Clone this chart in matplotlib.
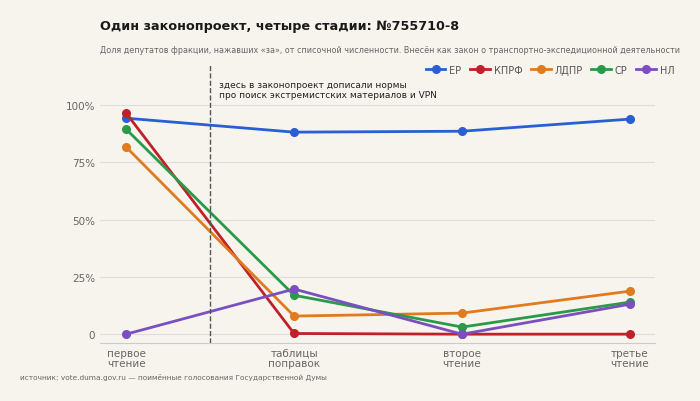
import matplotlib.pyplot as plt

stages = ["первое\nчтение", "таблицы\nпоправок", "второе\nчтение", "третье\nчтение"]
er = [94.3, 88.2, 88.6, 93.9]
kprf = [96.5, 0.3, 0.0, 0.0]
ldpr = [81.7, 7.9, 9.2, 18.8]
sr = [89.5, 17.0, 3.1, 14.0]
nl = [0.0, 19.7, 0.0, 13.1]
series = [("ЕР", er, "#2a5fd4"), ("КПРФ", kprf, "#c0202a"), ("ЛДПР", ldpr, "#e07b1e"),
          ("СР", sr, "#2a9a4a"), ("НЛ", nl, "#7a4fc0")]
bg = "#f7f4ee"

fig = plt.figure(figsize=(7, 4.02), dpi=100, facecolor=bg)
ax = fig.add_axes([0.143, 0.144, 0.793, 0.694], facecolor=bg)
x = list(range(len(stages)))
for name, vals, c in series:
    ax.plot(x, vals, color=c, lw=2, marker="o", ms=5.5, label=name)
ax.set_xlim(-0.155, 3.15)
ax.set_ylim(-3.9, 117.9)
ax.set_yticks([0, 25, 50, 75, 100])
ax.set_yticklabels(["0", "25%", "50%", "75%", "100%"])
ax.set_xticks(x)
ax.set_xticklabels(stages, linespacing=1.0)
ax.tick_params(colors="#666666", labelsize=7.5, length=0)
ax.grid(axis="y", color="#dddddd", lw=0.8)
ax.set_axisbelow(True)
for s in ["top", "right", "left"]:
    ax.spines[s].set_visible(False)
ax.spines["bottom"].set_color("#cccccc")
ax.axvline(0.5, color="#555555", ls="--", lw=1)
ax.text(0.55, 111, "здесь в законопроект дописали нормы\nпро поиск экстремистских материалов и VPN",
        fontsize=6.5, color="#222222", va="top", linespacing=1.1)
ax.legend(loc="upper right", bbox_to_anchor=(1.05, 1.03), ncol=5, frameon=False, fontsize=7,
          labelcolor="#555555", handlelength=2, columnspacing=0.9, handletextpad=0.4)
fig.text(0.143, 0.925, "Один законопроект, четыре стадии: №755710-8", fontsize=9.2,
         fontweight="bold", color="#1a1a1a")
fig.text(0.143, 0.868, "Доля депутатов фракции, нажавших «за», от списочной численности. Внесён как закон о транспортно-экспедиционной деятельности",
         fontsize=5.8, color="#666666")
fig.text(0.028, 0.055, "источник: vote.duma.gov.ru — поимённые голосования Государственной Думы",
         fontsize=5.3, color="#666666")
fig.savefig("out.png", dpi=100, facecolor=bg)
